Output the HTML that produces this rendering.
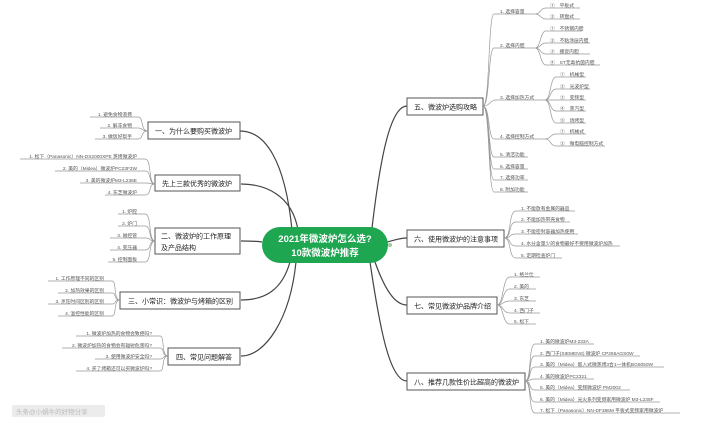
<!DOCTYPE html>
<html><head><meta charset="utf-8"><style>
html,body{margin:0;padding:0;background:#fff;width:720px;height:431px;overflow:hidden}
svg{display:block}
text{font-family:"Liberation Sans","Noto Sans CJK SC",sans-serif}
.n{font-size:7px;fill:#222}
.l{font-size:4.8px;fill:#555}
.box{fill:#fff;stroke:#555;stroke-width:1}
.c{fill:none;stroke:#444;stroke-width:1.2}
.u{fill:none;stroke:#999;stroke-width:0.7}
</style></head><body>
<svg width="720" height="431" viewBox="0 0 720 431">
<g class="c">
<path d="M292,230 C285,160 265,131 240,131"/>
<path d="M298,230 C292,195 265,184 241,184"/>
<path d="M262,242 C255,241 250,241 241,241"/>
<path d="M290,262 C282,290 265,300 241,300"/>
<path d="M296,262 C290,320 265,356 241,356"/>
<path d="M372,228 C380,160 390,106 407,106"/>
<path d="M387,242 C395,240 400,238 407,238"/>
<path d="M375,262 C385,290 395,305 407,305"/>
<path d="M370,262 C380,330 390,381 407,381"/>
</g>
<rect x="262" y="227" width="126" height="36" rx="18" fill="#1ea650"/>
<text x="325" y="242" font-size="9.5" fill="#fff" font-weight="bold" text-anchor="middle">2021年微波炉怎么选?</text>
<text x="325" y="256" font-size="9.5" fill="#fff" font-weight="bold" text-anchor="middle">10款微波炉推荐</text>
<circle cx="390" cy="245" r="2" fill="#9c9" />
<rect class="box" x="148" y="122" width="92" height="17"/><text class="n" x="155" y="133.5">一、为什么要购买微波炉</text>
<rect class="box" x="155" y="175" width="85" height="16"/><text class="n" x="162" y="186">先上三款优秀的微波炉</text>
<rect class="box" x="155" y="228" width="85" height="26"/><text class="n" x="161" y="238.5">二、微波炉的工作原理</text><text class="n" x="161" y="250">及产品结构</text>
<rect class="box" x="120" y="292" width="120" height="17"/><text class="n" x="128" y="303.5">三、小常识：微波炉与烤箱的区别</text>
<rect class="box" x="168" y="348" width="72" height="17"/><text class="n" x="176" y="359.5">四、常见问题解答</text>
<rect class="box" x="407" y="98" width="76" height="17"/><text class="n" x="414" y="109.5">五、微波炉选购攻略</text>
<rect class="box" x="407" y="230" width="97" height="17"/><text class="n" x="414" y="241.5">六、使用微波炉的注意事项</text>
<rect class="box" x="407" y="297" width="90" height="17"/><text class="n" x="414" y="308.5">七、常见微波炉品牌介绍</text>
<rect class="box" x="407" y="373" width="118" height="17"/><text class="n" x="414" y="384.5">八、推荐几款性价比超高的微波炉</text>

<g class="u">
<path d="M148,131 C140,131 144,117 138,117 L90,117 M148,131 C140,131 144,128 138,128 L100,128 M148,131 C140,131 144,139 138,139 L95,139"/>
<path d="M155,184 C148,184 152,159 145,159 L20,159 M155,184 C148,184 152,171 145,171 L55,171 M155,184 C148,184 152,183 145,183 L80,183 M155,184 C148,184 152,195 145,195 L105,195"/>
<path d="M155,241 C148,241 152,214 145,214 L118,214 M155,241 C148,241 152,226 145,226 L118,226 M155,241 C148,241 152,238 145,238 L110,238 M155,241 C148,241 152,250 145,250 L110,250 M155,241 C148,241 152,262 145,262 L108,262"/>
<path d="M120,300 C113,300 117,281 112,281 L48,281 M120,300 C113,300 117,293 112,293 L58,293 M120,300 C113,300 117,304 112,304 L48,304 M120,300 C113,300 117,316 112,316 L58,316"/>
<path d="M168,356 C161,356 165,336 160,336 L76,336 M168,356 C161,356 165,348 160,348 L62,348 M168,356 C161,356 165,359 160,359 L95,359 M168,356 C161,356 165,371 160,371 L76,371"/>
</g>
<g class="l" text-anchor="end">
<text x="132" y="116">1. 避免食物浪费</text><text x="132" y="127">2. 解冻食物</text><text x="132" y="138">3. 做饭好帮手</text>
<text x="137" y="158">1. 松下（Panasonic）NN-DS2000XPE 蒸烤微波炉</text><text x="137" y="170">2. 美的（Midea）微波炉PC23F3W</text><text x="137" y="182">3. 美的微波炉M3-L236E</text><text x="137" y="194">4. 东芝微波炉</text>
<text x="137" y="213">1. 炉腔</text><text x="137" y="225">2. 炉门</text><text x="137" y="237">3. 磁控管</text><text x="137" y="249">4. 变压器</text><text x="137" y="261">5. 控制面板</text>
<text x="104" y="280">1. 工作原理不同的区别</text><text x="104" y="292">2. 加热效果的区别</text><text x="104" y="303">3. 烹饪时间区别的区别</text><text x="104" y="315">4. 温控性能的区别</text>
<text x="152" y="335">1. 微波炉加热的食物会致癌吗?</text><text x="152" y="347">2. 微波炉加热的食物会有辐射危害吗?</text><text x="152" y="358">3. 使用微波炉安全吗?</text><text x="152" y="370">4. 买了烤箱还可以买微波炉吗?</text>
</g>

<g class="u">
<path d="M483,106 C490,106 488,14 494,14 L535,14 M483,106 C490,106 488,48 494,48 L535,48 M483,106 C490,106 490,100 496,100 L545,100 M483,106 C490,106 488,139 494,139 L545,139 M483,106 C490,106 488,157 494,157 L528,157 M483,106 C490,106 488,169 494,169 L528,169 M483,106 C490,106 488,180 494,180 L528,180 M483,106 C490,106 488,192 494,192 L528,192"/>
<path d="M535,14 C541,14 540,8 546,8 L580,8 M535,14 C541,14 540,19 546,19 L580,19"/>
<path d="M535,48 C541,48 540,31 546,31 L582,31 M535,48 C541,48 540,43 546,43 L590,43 M535,48 C541,48 540,54 546,54 L590,54 M535,48 C541,48 540,65 546,65 L600,65"/>
<path d="M545,100 C551,100 550,77 556,77 L586,77 M545,100 C551,100 550,89 556,89 L590,89 M545,100 C551,100 550,100 556,100 L586,100 M545,100 C551,100 550,111 556,111 L586,111 M545,100 C551,100 550,123 556,123 L586,123"/>
<path d="M545,139 C551,139 550,134 556,134 L586,134 M545,139 C551,139 550,146 556,146 L605,146"/>
</g>
<g class="l">
<text x="500" y="13">1. 选择容量</text><text x="500" y="47">2. 选择内胆</text><text x="500" y="99">3. 选择加热方式</text><text x="500" y="138">4. 选择控制方式</text>
<text x="500" y="156">5. 清洁功能</text><text x="500" y="168">6. 选择容量</text><text x="500" y="179">7. 选择功率</text><text x="500" y="191">8. 附加功能</text>
<text x="550" y="7">①　平板式</text><text x="550" y="18">②　转盘式</text>
<text x="550" y="30">①　不锈钢内胆</text><text x="550" y="42">②　不粘涂层内胆</text><text x="550" y="53">③　搪瓷内胆</text><text x="550" y="64">④　ST无毒抗菌内胆</text>
<text x="560" y="76">①　机械型</text><text x="560" y="88">②　光波炉型</text><text x="560" y="99">③　变频型</text><text x="560" y="110">④　蒸汽型</text><text x="560" y="122">⑤　烧烤型</text>
<text x="560" y="133">①　机械式</text><text x="560" y="145">②　微电脑控制方式</text>
</g>
<g class="u">
<path d="M504,238 C512,238 508,211 516,211 L575,211 M504,238 C512,238 508,222 516,222 L570,222 M504,238 C512,238 508,234 516,234 L578,234 M504,238 C512,238 508,246 516,246 L620,246 M504,238 C512,238 508,258 516,258 L562,258"/>
<path d="M497,305 C504,305 502,277 510,277 L540,277 M497,305 C504,305 502,289 510,289 L536,289 M497,305 C504,305 502,301 510,301 L536,301 M497,305 C504,305 502,313 510,313 L540,313 M497,305 C504,305 502,324 510,324 L536,324"/>
<path d="M525,381 C532,381 528,344 535,344 L594,344 M525,381 C532,381 528,356 535,356 L640,356 M525,381 C532,381 528,367 535,367 L664,367 M525,381 C532,381 528,379 535,379 L594,379 M525,381 C532,381 528,390 535,390 L630,390 M525,381 C532,381 528,402 535,402 L660,402 M525,381 C532,381 528,413 535,413 L680,413"/>
</g>
<g class="l">
<text x="521" y="210">1. 不能放有金属的器皿</text><text x="521" y="221">2. 不能加热带壳食物</text><text x="521" y="233">3. 不能密封容器加热使用</text><text x="521" y="245">4. 水分含量少的食物最好不要用微波炉加热</text><text x="521" y="257">5. 定期检查炉门</text>
<text x="514" y="276">1. 格兰仕</text><text x="514" y="288">2. 美的</text><text x="514" y="300">3. 东芝</text><text x="514" y="312">4. 西门子</text><text x="514" y="323">5. 松下</text>
<text x="540" y="343">1. 美的微波炉M3-233A</text><text x="540" y="355">2. 西门子(SIEMENS) 微波炉 CP265AGS0W</text><text x="540" y="366">3. 美的（Midea）嵌入式微蒸烤3合1一体机BG5050W</text><text x="540" y="378">4. 美的微波炉PC2321</text><text x="540" y="389">5. 美的（Midea）变频微波炉 PM2002</text><text x="540" y="401">6. 美的（Midea）光火系列变频家用微波炉 M3-L235F</text><text x="540" y="412">7. 松下（Panasonic）NN-DF386M 平板式变频家用微波炉</text>
</g>
<rect x="12" y="405" width="93" height="12" rx="2" fill="#ececec"/>
<text x="16" y="414" font-size="6.5" fill="#bbb">头条@小蜗牛的好物分享</text>
</svg>
</body></html>
